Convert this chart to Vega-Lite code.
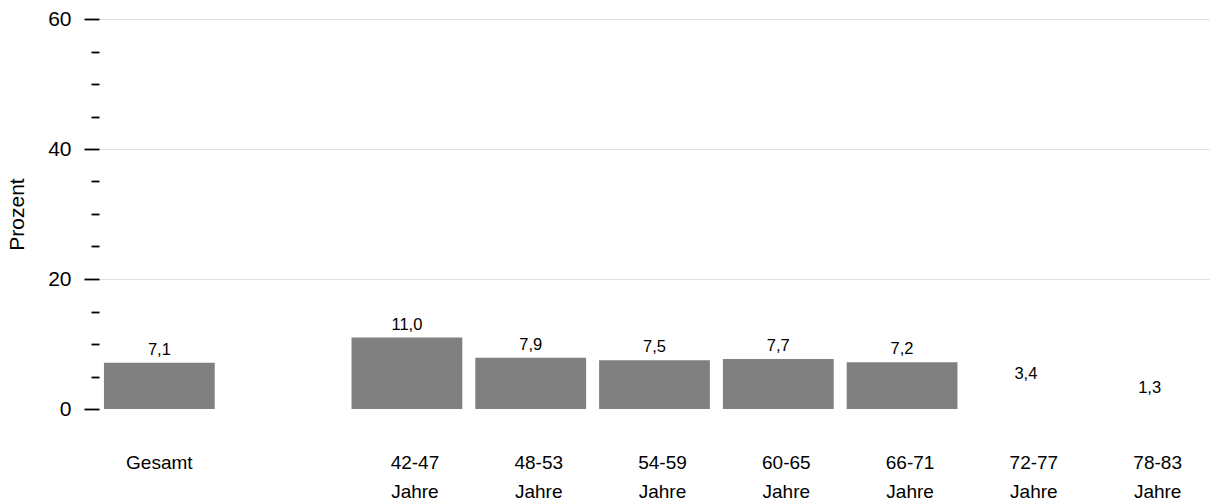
{
  "$schema": "https://vega.github.io/schema/vega-lite/v6.json",
  "autosize": "none",
  "width": 1111,
  "height": 390,
  "padding": {"left": 99, "top": 19, "right": 0, "bottom": 92},
  "background": "white",
  "config": {
    "view": {"stroke": null},
    "font": "Liberation Sans",
    "locale": {"number": {"decimal": ",", "thousands": ".", "grouping": [3], "currency": ["", " €"]}}
  },
  "data": {
    "values": [
      {"Gruppe": "Gesamt", "Prozent": 7.1},
      {"Gruppe": "42-47 Jahre", "Prozent": 11.0},
      {"Gruppe": "48-53 Jahre", "Prozent": 7.9},
      {"Gruppe": "54-59 Jahre", "Prozent": 7.5},
      {"Gruppe": "60-65 Jahre", "Prozent": 7.7},
      {"Gruppe": "66-71 Jahre", "Prozent": 7.2},
      {"Gruppe": "72-77 Jahre", "Prozent": 3.4},
      {"Gruppe": "78-83 Jahre", "Prozent": 1.3}
    ]
  },
  "encoding": {
    "x": {
      "field": "Gruppe",
      "type": "nominal",
      "sort": null,
      "scale": {
        "domain": ["Gesamt", "", "42-47 Jahre", "48-53 Jahre", "54-59 Jahre", "60-65 Jahre", "66-71 Jahre", "72-77 Jahre", "78-83 Jahre"],
        "paddingInner": 0.105,
        "paddingOuter": 0.04
      },
      "axis": {
        "title": null,
        "domain": false,
        "ticks": false,
        "labelAngle": 0,
        "labelFontSize": 19,
        "labelColor": "black",
        "labelPadding": 44,
        "labelLineHeight": 29,
        "labelExpr": "split(datum.label, ' ')",
        "labelOffset": {"condition": {"test": "datum.value === 'Gesamt'", "value": 0}, "value": 8}
      }
    },
    "y": {
      "field": "Prozent",
      "type": "quantitative",
      "scale": {"domain": [0, 60], "nice": false},
      "axis": {
        "title": "Prozent",
        "titleFontSize": 21,
        "titleFontWeight": "normal",
        "titleColor": "black",
        "titlePadding": 20,
        "values": [0, 5, 10, 15, 20, 25, 30, 35, 40, 45, 50, 55, 60],
        "labelExpr": "datum.value % 20 === 0 ? datum.label : ''",
        "labelFontSize": 21,
        "labelColor": "black",
        "labelPadding": 13,
        "domain": false,
        "offset": 0,
        "tickColor": "black",
        "tickWidth": 1.8,
        "tickSize": {"condition": {"test": "datum.value % 20 === 0", "value": 15}, "value": 8},
        "grid": true,
        "gridColor": "#e0e0e0",
        "gridOpacity": {"condition": {"test": "datum.value % 20 === 0 && datum.value > 0", "value": 1}, "value": 0}
      }
    }
  },
  "layer": [
    {
      "mark": {"type": "bar", "color": "#808080"},
      "encoding": {
        "opacity": {
          "condition": {"test": "datum.Gruppe === '72-77 Jahre' || datum.Gruppe === '78-83 Jahre'", "value": 0},
          "value": 1
        }
      }
    },
    {
      "mark": {"type": "text", "baseline": "bottom", "dy": -5, "fontSize": 16.5, "color": "black"},
      "encoding": {
        "text": {"field": "Prozent", "type": "quantitative", "format": ".1f"}
      }
    }
  ]
}
